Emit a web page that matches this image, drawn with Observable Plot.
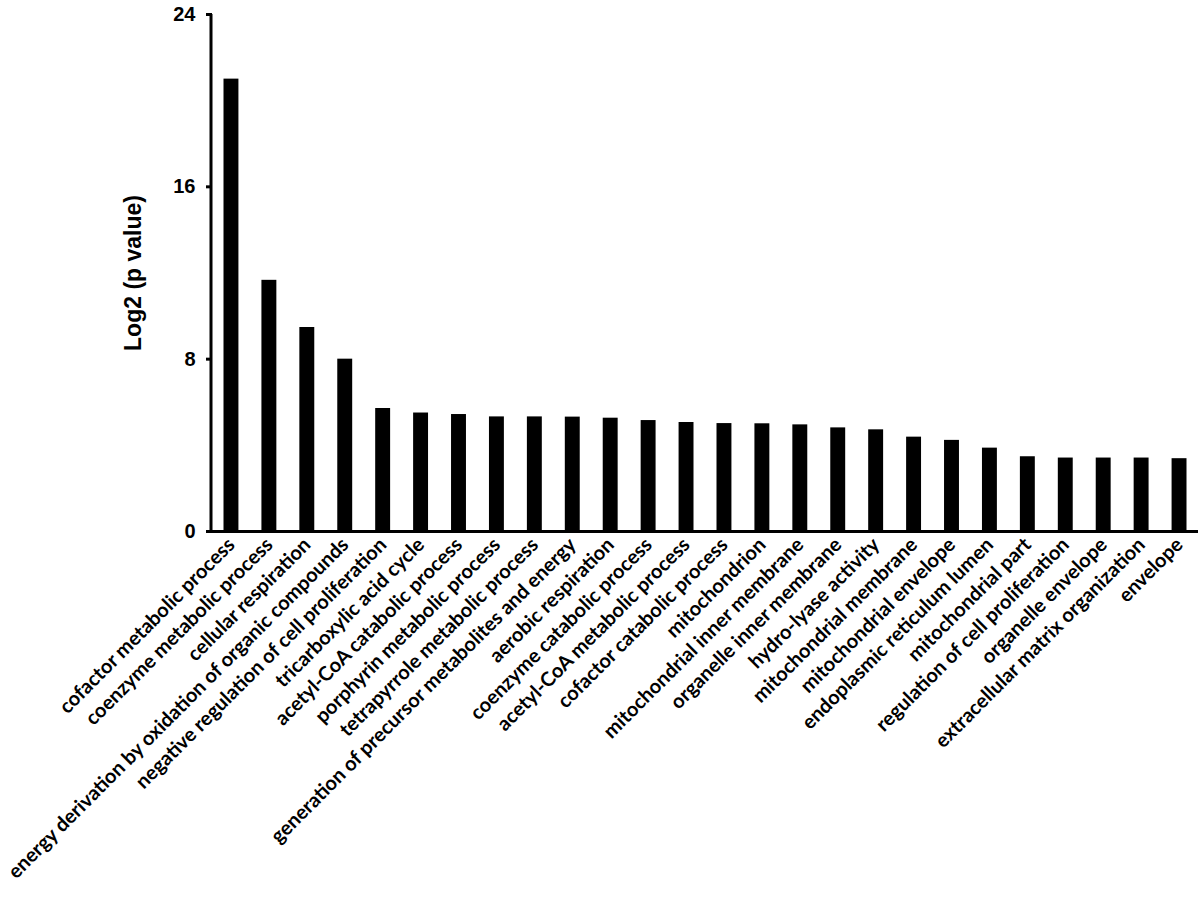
<!DOCTYPE html>
<html>
<head>
<meta charset="utf-8">
<script src="https://cdn.jsdelivr.net/npm/d3@7"></script>
<script src="https://cdn.jsdelivr.net/npm/@observablehq/plot@0.6"></script>
<style>
  html, body { margin: 0; padding: 0; background: #fff; }
  #chart { width: 1200px; height: 904px; }
</style>
</head>
<body>
<div id="chart"></div>
<script>
const terms = [
  "cofactor metabolic process",
  "coenzyme metabolic process",
  "cellular respiration",
  "energy derivation by oxidation of organic compounds",
  "negative regulation of cell proliferation",
  "tricarboxylic acid cycle",
  "acetyl-CoA catabolic process",
  "porphyrin metabolic process",
  "tetrapyrrole metabolic process",
  "generation of precursor metabolites and energy",
  "aerobic respiration",
  "coenzyme catabolic process",
  "acetyl-CoA metabolic process",
  "cofactor catabolic process",
  "mitochondrion",
  "mitochondrial inner membrane",
  "organelle inner membrane",
  "hydro-lyase activity",
  "mitochondrial membrane",
  "mitochondrial envelope",
  "endoplasmic reticulum lumen",
  "mitochondrial part",
  "regulation of cell proliferation",
  "organelle envelope",
  "extracellular matrix organization",
  "envelope"
];
const log2p = [
  21.0, 11.66, 9.47, 8.0, 5.71, 5.50, 5.43, 5.32, 5.32, 5.31,
  5.26, 5.15, 5.06, 5.01, 5.00, 4.95, 4.81, 4.72, 4.38, 4.23,
  3.87, 3.47, 3.41, 3.41, 3.41, 3.38
];
const yTicks = [0, 8, 16, 24];
const yLabel = "Log2 (p value)";

const data = terms.map((t, i) => ({term: t, value: log2p[i]}));

const chart = Plot.plot({
  width: 1200,
  height: 904,
  marginTop: 14,
  marginBottom: 373,
  marginLeft: 212,
  marginRight: 2,
  style: {background: "#fff", color: "#000"},
  x: {domain: terms, padding: 0, align: 0.5, round: false},
  y: {domain: [0, 24], ticks: yTicks},
  marks: [
    Plot.barY(data, {x: "term", y: "value", fill: "#000", insetLeft: 11.5, insetRight: 11.5}),
    Plot.axisX({
      tickSize: 0,
      tickRotate: -45,
      tickPadding: 10,
      fontSize: 20,
      fontFamily: "Lato",
      fontWeight: "bold",
      label: null
    }),
    Plot.axisY({
      ticks: yTicks,
      tickSize: 6,
      tickPadding: 11,
      strokeWidth: 3,
      fontSize: 20,
      fontFamily: "Liberation Sans",
      fontWeight: "bold",
      label: yLabel,
      labelAnchor: "center",
      labelArrow: "none",
      labelOffset: 88
    }),
    Plot.ruleY([0], {stroke: "#000", strokeWidth: 3})
  ]
});

document.getElementById("chart").appendChild(chart);

// y-axis line drawn from the plot's own scales
const xs = chart.scale("x"), ys = chart.scale("y");
const x0 = xs.range[0] - 1;
d3.select(chart).append("line")
  .attr("x1", x0).attr("x2", x0)
  .attr("y1", ys.apply(0) + 1.5).attr("y2", ys.apply(24))
  .attr("stroke", "#000").attr("stroke-width", 3);

// style the y-axis label
d3.select(chart).selectAll("text").filter(function() { return this.textContent === yLabel; })
  .attr("font-family", "Liberation Sans").attr("font-weight", "bold").attr("font-size", 23);
</script>
</body>
</html>
